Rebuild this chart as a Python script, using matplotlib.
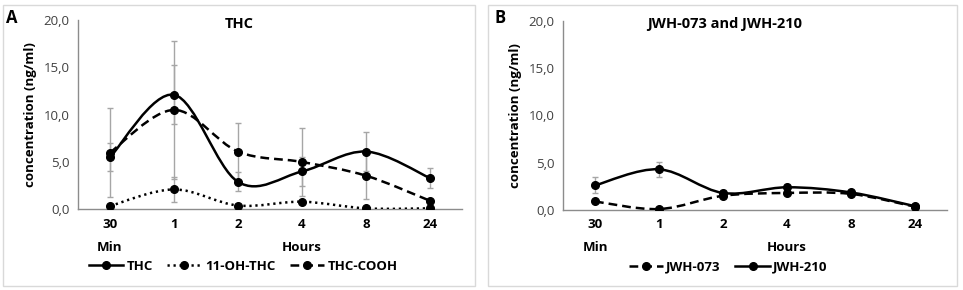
import numpy as np
import matplotlib
matplotlib.use("Agg")
import matplotlib.pyplot as plt
from matplotlib.path import Path
from matplotlib.patches import PathPatch, Rectangle
from matplotlib.lines import Line2D

plt.rcParams['font.family'] = ['Open Sans', 'DejaVu Sans']

# time points (categories)
times = ['30', '1', '2', '4', '8', '24']

# panel A: THC
thc = [5.5, 12.1, 2.9, 4.0, 6.1, 3.3]
thc_err = [1.5, 3.1, 1.0, 1.5, 2.1, 1.1]
oh_thc = [0.35, 2.1, 0.4, 0.8, 0.1, 0.1]
oh_thc_err = [0.0, 1.3, 0.0, 0.0, 0.0, 0.0]
thc_cooh = [6.0, 10.5, 6.1, 5.0, 3.55, 0.9]
thc_cooh_err = [4.7, 7.3, 3.05, 3.6, 2.45, 0.0]

# panel B: JWH
jwh073 = [0.9, 0.1, 1.5, 1.8, 1.7, 0.35]
jwh073_err = [0.0, 0.0, 0.1, 0.1, 0.1, 0.0]
jwh210 = [2.6, 4.3, 1.8, 2.4, 1.85, 0.4]
jwh210_err = [0.85, 0.8, 0.3, 0.3, 0.3, 0.1]

GRAY = '#a6a6a6'
AXIS = '#8c8c8c'
LW = 1.8
DOT = (0, (0.9, 1.5))
DASH = (0, (3.5, 2))
FS = 9.5


def smooth_path(ax, x, y, **kw):
    # Excel-like smoothed line: cubic bezier through the points
    x = np.asarray(x, float)
    y = np.asarray(y, float)
    n = len(x)
    verts = [(x[0], y[0])]
    codes = [Path.MOVETO]
    for i in range(n - 1):
        p0 = np.array([x[max(i - 1, 0)], y[max(i - 1, 0)]])
        p1 = np.array([x[i], y[i]])
        p2 = np.array([x[i + 1], y[i + 1]])
        p3 = np.array([x[min(i + 2, n - 1)], y[min(i + 2, n - 1)]])
        c1 = p1 + (p2 - p0) / 6.0
        c2 = p2 - (p3 - p1) / 6.0
        verts += [tuple(c1), tuple(c2), tuple(p2)]
        codes += [Path.CURVE4] * 3
    patch = PathPatch(Path(verts, codes), facecolor='none', edgecolor='black',
                      capstyle='butt', zorder=3, **kw)
    ax.add_patch(patch)


def panel(ax, series, title):
    x = np.arange(len(times))
    for vals, err, ls in series:
        ax.errorbar(x, vals, yerr=err, fmt='none', ecolor=GRAY, elinewidth=1,
                    capsize=2.5, capthick=1, zorder=1)
        smooth_path(ax, x, vals, linewidth=LW, linestyle=ls)
        ax.plot(x, vals, 'o', color='black', markersize=5.5, zorder=4)
    ax.set_xlim(-0.5, len(times) - 0.5)
    ax.set_ylim(0, 20)
    ax.set_yticks([0, 5, 10, 15, 20])
    ax.set_yticklabels(['0,0', '5,0', '10,0', '15,0', '20,0'], fontsize=FS, color='#404040')
    ax.set_xticks(x)
    ax.set_xticklabels(times, fontsize=FS, fontweight='bold')
    ax.tick_params(length=0, pad=6)
    for s in ['top', 'right']:
        ax.spines[s].set_visible(False)
    for s in ['left', 'bottom']:
        ax.spines[s].set_color(AXIS)
        ax.spines[s].set_linewidth(1.0)
    ax.set_ylabel('concentration (ng/ml)', fontsize=FS, fontweight='bold', labelpad=5)
    ax.text(0.42, 0.98, title, transform=ax.transAxes, ha='center', va='center',
            fontsize=10.5, fontweight='bold')
    ax.text(0, -0.2, 'Min', transform=ax.get_xaxis_transform(), ha='center', va='center',
            fontsize=FS, fontweight='bold')
    ax.text(3, -0.2, 'Hours', transform=ax.get_xaxis_transform(), ha='center', va='center',
            fontsize=FS, fontweight='bold')


fig = plt.figure(figsize=(9.63, 2.9), dpi=100)

axA = fig.add_axes([78 / 963, 1 - 209.3 / 290, 384 / 963, 189.3 / 290])
axB = fig.add_axes([563 / 963, 1 - 210 / 290, 384 / 963, 189.3 / 290])

panel(axA, [(thc, thc_err, '-'), (oh_thc, oh_thc_err, DOT),
            (thc_cooh, thc_cooh_err, DASH)], 'THC')
panel(axB, [(jwh073, jwh073_err, DASH), (jwh210, jwh210_err, '-')],
      'JWH-073 and JWH-210')


def handle(ls):
    return Line2D([0], [0], color='black', linestyle=ls, linewidth=LW, marker='o',
                  markersize=5.5)


legA = axA.legend([handle('-'), handle(DOT), handle(DASH)],
                  ['THC', '11-OH-THC', 'THC-COOH'], ncol=3, frameon=False,
                  loc='center', bbox_to_anchor=(0.43, -0.3), handlelength=2.6,
                  columnspacing=1.1, handletextpad=0.25,
                  prop={'size': FS, 'weight': 'bold'})
legB = axB.legend([handle(DASH), handle('-')], ['JWH-073', 'JWH-210'], ncol=2,
                  frameon=False, loc='center', bbox_to_anchor=(0.43, -0.3),
                  handlelength=2.6, columnspacing=1.1, handletextpad=0.25,
                  prop={'size': FS, 'weight': 'bold'})

# panel borders and letters
for x0, x1, letter, lx in [(3, 475, 'A', 12), (488, 957, 'B', 500)]:
    fig.patches.append(Rectangle((x0 / 963, 4 / 290), (x1 - x0) / 963, 281 / 290,
                                 transform=fig.transFigure, fill=False,
                                 edgecolor='#d9d9d9', linewidth=1))
    fig.text(lx / 963, 1 - 18 / 290, letter, fontsize=12, fontweight='bold',
             ha='center', va='center')

fig.savefig('out.png', dpi=100)
